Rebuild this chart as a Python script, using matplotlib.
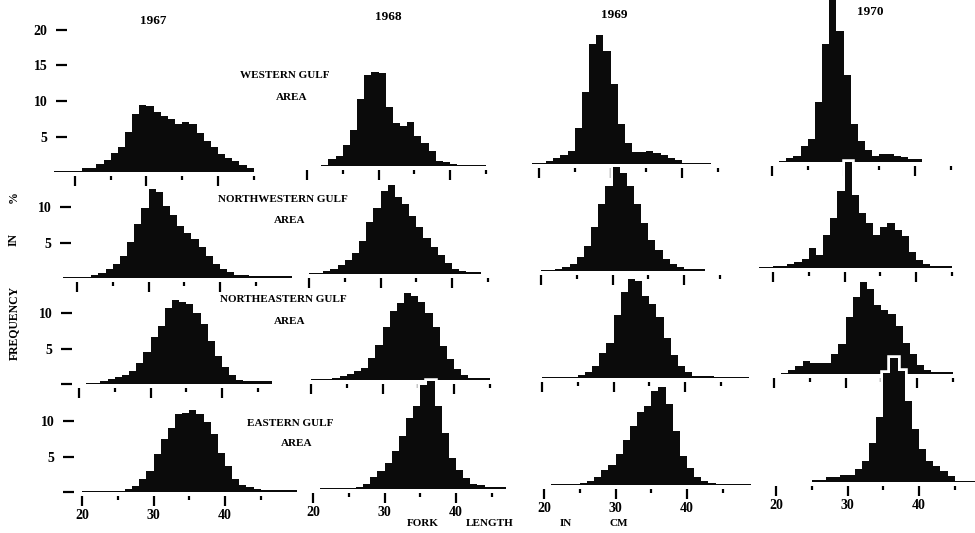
import numpy as np
import matplotlib.pyplot as plt
import matplotlib.patheffects as pe

plt.rcParams['font.family'] = ['Liberation Serif', 'DejaVu Serif']
plt.rcParams['font.weight'] = 'bold'

years = ['1967', '1968', '1969', '1970']
areas = ['WESTERN GULF', 'NORTHWESTERN GULF', 'NORTHEASTERN GULF', 'EASTERN GULF']

# percent frequency in 1-cm fork length classes; every list starts at 17 cm
first_class = 17

western_1967 = [0.2, 0.2, 0.2, 0.2, 0.5, 0.5, 1.1, 1.7, 2.7, 3.5, 5.6, 8.2, 9.5, 9.3, 8.4, 7.9, 7.5, 6.7,
                7.0, 6.7, 5.5, 4.4, 3.5, 2.5, 2.0, 1.5, 1.0, 0.6]
western_1968 = [0, 0, 0, 0, 0, 0.2, 1.0, 1.4, 3.0, 5.1, 9.5, 12.8, 13.2, 13.1, 8.3, 6.0, 5.6, 6.2, 4.2,
                3.2, 2.1, 0.7, 0.5, 0.3, 0.15, 0.15, 0.15, 0.15]
western_1969 = [0, 0, 0.1, 0.1, 0.4, 0.9, 1.3, 1.9, 5.1, 10.2, 16.9, 18.1, 15.9, 11.2, 5.6, 3.0, 1.7, 1.7,
                1.9, 1.5, 1.25, 0.8, 0.5, 0.2, 0.2, 0.2, 0.2]
western_1970 = [0, 0, 0, 0, 0.1, 0.5, 0.9, 2.2, 3.3, 8.5, 16.6, 23.5, 18.4, 12.3, 5.3, 2.9, 1.7, 0.8, 1.1,
                1.1, 0.9, 0.7, 0.4, 0.4]

northwestern_1967 = [0, 0.15, 0.15, 0.2, 0.2, 0.4, 0.75, 1.3, 2.0, 3.1, 5.1, 7.6, 9.9, 12.6, 12.1, 10.2, 8.9,
                     7.3, 6.4, 5.5, 4.3, 3.1, 2.0, 1.3, 0.85, 0.4, 0.4, 0.35, 0.35, 0.3, 0.3, 0.3, 0.3]
northwestern_1968 = [0, 0, 0, 0.15, 0.15, 0.4, 0.75, 1.3, 1.95, 2.9, 4.7, 7.3, 9.3, 11.7, 12.6, 10.8, 9.8,
                     8.1, 6.6, 5.1, 3.8, 2.7, 1.5, 0.75, 0.45, 0.25, 0.25]
northwestern_1969 = [0, 0, 0, 0.1, 0.1, 0.3, 0.6, 0.95, 2.0, 3.5, 6.2, 9.4, 12.0, 14.6, 13.8, 12.0, 9.4,
                     6.7, 4.4, 3.0, 1.7, 0.95, 0.5, 0.25, 0.25, 0.25]
northwestern_1970 = [0, 0.15, 0.2, 0.25, 0.3, 0.5, 0.85, 1.3, 2.8, 1.9, 4.6, 7.0, 10.8, 14.9, 10.3, 7.8,
                     6.4, 4.6, 5.8, 6.4, 5.3, 4.5, 2.3, 1.1, 0.5, 0.35, 0.35, 0.35]

northeastern_1967 = [0, 0, 0, 0, 0.15, 0.15, 0.4, 0.7, 1.0, 1.3, 1.8, 3.0, 4.5, 6.6, 8.2, 10.7, 11.8, 11.5,
                     11.2, 10.0, 8.5, 6.1, 4.0, 2.4, 1.3, 0.6, 0.4, 0.4, 0.4, 0.4]
northeastern_1968 = [0, 0, 0, 0.1, 0.1, 0.1, 0.35, 0.5, 0.85, 1.2, 1.7, 3.1, 5.0, 7.5, 9.7, 10.9, 12.3,
                     11.9, 11.0, 9.5, 7.4, 4.8, 2.9, 1.5, 0.7, 0.25, 0.25, 0.25]
northeastern_1969 = [0, 0, 0, 0.1, 0.1, 0.1, 0.1, 0.1, 0.4, 0.85, 1.7, 3.5, 4.9, 8.9, 12.1, 14.0, 13.6,
                     11.5, 10.4, 8.6, 5.6, 3.2, 1.7, 0.85, 0.3, 0.3, 0.3, 0.1, 0.1, 0.1, 0.1, 0.1]
northeastern_1970 = [0, 0, 0, 0, 0.15, 0.5, 1.1, 1.9, 1.6, 1.6, 1.6, 2.8, 4.2, 8.0, 10.9, 12.9, 12.0, 9.7,
                     9.0, 8.5, 6.8, 4.3, 2.8, 1.2, 0.5, 0.25, 0.25, 0.25]

eastern_1967 = [0, 0, 0, 0.1, 0.1, 0.1, 0.1, 0.1, 0.1, 0.4, 0.9, 1.9, 3.0, 5.4, 7.4, 9.0, 11.0, 11.1, 11.5,
                11.0, 9.8, 8.1, 5.5, 3.6, 1.9, 1.0, 0.7, 0.4, 0.25, 0.25, 0.25, 0.25, 0.25]
eastern_1968 = [0, 0, 0, 0, 0.15, 0.15, 0.15, 0.15, 0.15, 0.3, 0.75, 1.7, 2.5, 3.6, 5.3, 7.4, 10.0, 11.7,
                14.6, 15.2, 11.7, 7.9, 4.3, 2.7, 1.5, 0.75, 0.5, 0.3, 0.3, 0.3]
eastern_1969 = [0, 0, 0, 0, 0.1, 0.1, 0.1, 0.1, 0.25, 0.6, 1.1, 2.1, 2.8, 4.4, 6.4, 8.3, 10.3, 11.1, 13.3,
                13.8, 11.4, 7.6, 4.1, 2.4, 1.1, 0.6, 0.35, 0.15, 0.15, 0.15, 0.15, 0.15]
eastern_1970 = [0, 0, 0.05, 0.05, 0.05, 0.05, 0.05, 0.05, 0.35, 0.35, 0.7, 0.7, 1.0, 1.0, 1.85, 2.9, 5.5,
                9.1, 15.3, 17.4, 15.7, 11.4, 7.5, 4.7, 2.9, 2.2, 1.5, 0.8, 0.2, 0.2, 0.2]

panels = [[western_1967, western_1968, western_1969, western_1970],
          [northwestern_1967, northwestern_1968, northwestern_1969, northwestern_1970],
          [northeastern_1967, northeastern_1968, northeastern_1969, northeastern_1970],
          [eastern_1967, eastern_1968, eastern_1969, eastern_1970]]
row_yticks = [[5, 10, 15, 20], [5, 10], [0, 5, 10], [0, 5, 10]]

# layout of the pasted-up panels (pixels): x of the 20 cm tick and baseline y
W, H = 975, 533
x20 = [[75, 307, 539, 772], [77, 309, 541, 773], [79, 311, 542, 774], [82, 313, 544, 776]]
base = [[172, 166, 164, 162], [278, 274, 271, 268], [384, 380, 378, 374], [492, 489, 485, 482]]
ylab_x = [67, 71, 72, 74]
PX_CM, PX_PCT = 7.15, 7.1
XMIN, XMAX, YTOP = 14, 51, 25

fig = plt.figure(figsize=(W / 100, H / 100), dpi=100)


def px_axes(left, top_base, width, height):
    return fig.add_axes([left / W, (H - top_base) / H, width / W, height / H])


for r in range(4):
    for c in range(4):
        v = np.array(panels[r][c], dtype=float)
        nz = np.nonzero(v)[0]
        v = v[nz[0]:nz[-1] + 1]
        edges = first_class + nz[0] + np.arange(len(v) + 1)

        ax = px_axes(x20[r][c] - (20 - XMIN) * PX_CM, base[r][c],
                     (XMAX - XMIN) * PX_CM, YTOP * PX_PCT)
        ax.set_facecolor('none')
        st = ax.stairs(v, edges, fill=True, color='#0b0b0b', linewidth=1.2, baseline=0)
        st.set_path_effects([pe.Stroke(linewidth=4, foreground='white'), pe.Normal()])
        ax.set_xlim(XMIN, XMAX)
        ax.set_ylim(0, YTOP)
        for s in ax.spines.values():
            s.set_visible(False)
        ax.spines['bottom'].set_position(('outward', 3))
        ax.set_yticks([])
        ax.set_xticks([20, 30, 40])
        ax.set_xticks([25, 35, 45], minor=True)
        ax.tick_params(axis='x', which='major', length=7, width=1.6, pad=2, labelsize=10)
        ax.tick_params(axis='x', which='minor', length=3, width=1.6)
        if r < 3:
            ax.set_xticklabels([])

    # y scale of the row, drawn beside the first column
    ay = px_axes(ylab_x[r], base[r][0], 1, YTOP * PX_PCT)
    ay.set_facecolor('none')
    ay.set_ylim(0, YTOP)
    ay.set_xticks([])
    for s in ay.spines.values():
        s.set_visible(False)
    ay.set_yticks(row_yticks[r])
    ay.set_yticklabels(['' if t == 0 else str(t) for t in row_yticks[r]])
    ay.tick_params(axis='y', length=8, width=1.6, pad=6, labelsize=10)


def ftext(x, y, s, **kw):
    fig.text(x / W, 1 - y / H, s, ha='center', va='center', **kw)


for x, y, s in zip([153, 388, 614, 870], [21, 17, 15, 12], years):
    ftext(x, y, s, fontsize=9.5)

area_pos = [(285, 76, 97), (283, 199, 221), (283, 300, 322), (290, 424, 444)]
for (x, y1, y2), name in zip(area_pos, areas):
    ftext(x, y1, name, fontsize=8)
    ftext(x + 7, y2, 'AREA', fontsize=8)

ftext(14, 197, '%', fontsize=8.5, rotation=90)
ftext(14, 240, 'IN', fontsize=8.5, rotation=90)
ftext(14, 323, 'FREQUENCY', fontsize=8.5, rotation=90)

for x, s in zip([423, 490, 566, 619], ['FORK', 'LENGTH', 'IN', 'CM']):
    ftext(x, 523, s, fontsize=8)

fig.savefig('out.png', dpi=100, facecolor='white')
